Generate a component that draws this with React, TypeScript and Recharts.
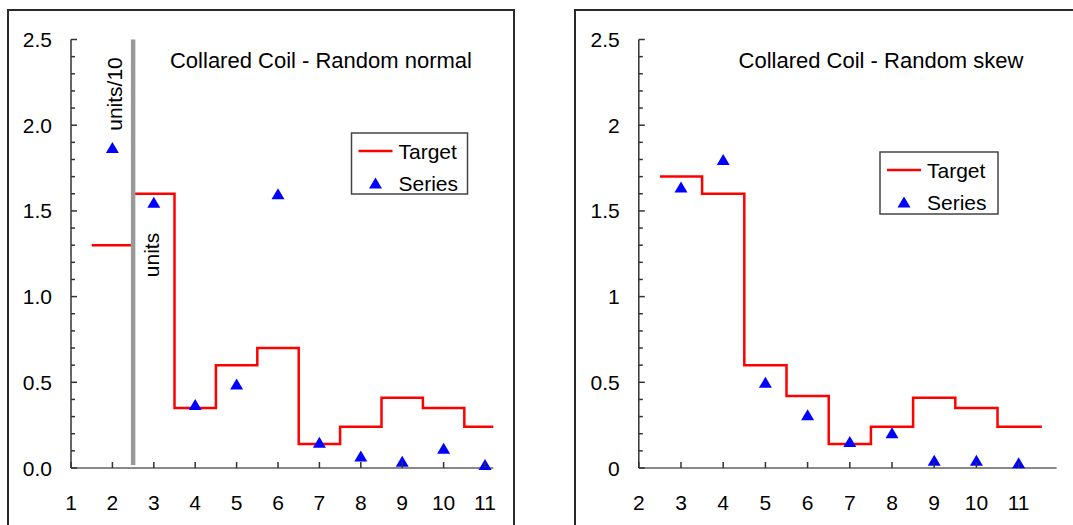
import { ComposedChart, Line, ReferenceLine, Scatter, XAxis, YAxis } from 'recharts';

// values
const LEFT_CATEGORIES = [2, 3, 4, 5, 6, 7, 8, 9, 10, 11];
const LEFT_TARGET = [1.3, 1.6, 0.35, 0.6, 0.7, 0.14, 0.24, 0.41, 0.35, 0.24];
const LEFT_SERIES = [1.87, 1.55, 0.37, 0.49, 1.6, 0.15, 0.07, 0.04, 0.115, 0.02];
const LEFT_X_TICKS = [1, 2, 3, 4, 5, 6, 7, 8, 9, 10, 11];

const RIGHT_CATEGORIES = [3, 4, 5, 6, 7, 8, 9, 10, 11];
const RIGHT_TARGET = [1.7, 1.6, 0.6, 0.42, 0.14, 0.24, 0.41, 0.35, 0.24];
const RIGHT_SERIES = [1.64, 1.8, 0.5, 0.31, 0.155, 0.205, 0.045, 0.045, 0.03];
const RIGHT_X_TICKS = [2, 3, 4, 5, 6, 7, 8, 9, 10, 11];

// minor ticks every 0.1, labels every 0.5
const Y_TICKS = Array.from({ length: 26 }, (_, i) => i / 10);

const FONT = '"Liberation Sans", Arial, sans-serif';
const RED = '#FF0000';
const BLUE = '#0000FF';

// step outline: each category owns [c - 0.5, c + 0.5]
function steps(cats: number[], vals: number[], end: number) {
  const pts = cats.map((c, i) => ({ x: c - 0.5, y: vals[i] }));
  pts.push({ x: end, y: vals[vals.length - 1] });
  return pts;
}

function points(cats: number[], vals: number[]) {
  return cats.map((c, i) => ({ x: c, y: vals[i] }));
}

const Triangle = (props: any) => {
  const { cx, cy } = props;
  return (
    <polygon
      points={`${cx},${cy - 5.5} ${cx - 6.5},${cy + 5.5} ${cx + 6.5},${cy + 5.5}`}
      fill={BLUE}
    />
  );
};

const Y_GAP = 19;
const X_GAP = 34;

function YTick({ x, y, payload, fmt }: any) {
  const v = payload.value;
  const major = Math.round(v * 10) % 5 === 0;
  return (
    <g>
      <line x1={x + Y_GAP} x2={x + Y_GAP + (major ? 6 : 4)} y1={y} y2={y} stroke="#333" strokeWidth={1.5} />
      {major && (
        <text x={x} y={y} dy="0.36em" textAnchor="end" fontSize={21} fontFamily={FONT} fill="#000">
          {fmt(v)}
        </text>
      )}
    </g>
  );
}

function XTick({ x, y, payload }: any) {
  return (
    <g>
      <line x1={x} x2={x} y1={y - X_GAP} y2={y - X_GAP - 6} stroke="#333" strokeWidth={1.5} />
      <text x={x} y={y} dy="0.36em" textAnchor="middle" fontSize={21} fontFamily={FONT} fill="#000">
        {payload.value}
      </text>
    </g>
  );
}

function Panel({
  width,
  margin,
  domain,
  xTicks,
  fmt,
  children,
}: {
  width: number;
  margin: { top: number; right: number; bottom: number; left: number };
  domain: [number, number];
  xTicks: number[];
  fmt: (v: number) => string;
  children: React.ReactNode;
}) {
  return (
    <ComposedChart width={width} height={525} margin={margin}>
      <XAxis
        type="number"
        dataKey="x"
        domain={domain}
        ticks={xTicks}
        interval={0}
        height={40}
        tickSize={0}
        tickMargin={X_GAP}
        axisLine={{ stroke: '#888', strokeWidth: 2 }}
        tick={(p: any) => <XTick {...p} />}
      />
      <YAxis
        type="number"
        dataKey="y"
        domain={[0, 2.5]}
        ticks={Y_TICKS}
        interval={0}
        width={60}
        tickSize={0}
        tickMargin={Y_GAP}
        axisLine={{ stroke: '#333', strokeWidth: 1.5 }}
        tick={(p: any) => <YTick {...p} fmt={fmt} />}
      />
      {children}
    </ComposedChart>
  );
}

function Legend({ x, y, w, h }: { x: number; y: number; w: number; h: number }) {
  return (
    <g fontFamily={FONT} fontSize={21}>
      <rect x={x} y={y} width={w} height={h} fill="#fff" stroke="#444" strokeWidth={1.5} />
      <line x1={x + 7} x2={x + 41} y1={y + 18} y2={y + 18} stroke={RED} strokeWidth={2.5} />
      <text x={x + 47} y={y + 18} dy="0.36em">Target</text>
      <Triangle cx={x + 24} cy={y + 50} />
      <text x={x + 47} y={y + 50} dy="0.36em">Series</text>
    </g>
  );
}

export default function App() {
  const leftLow = steps(LEFT_CATEGORIES.slice(0, 1), LEFT_TARGET.slice(0, 1), 2.5);
  const leftHigh = steps(LEFT_CATEGORIES.slice(1), LEFT_TARGET.slice(1), 11.2);
  const leftPts = points(LEFT_CATEGORIES, LEFT_SERIES);
  const rightSteps = steps(RIGHT_CATEGORIES, RIGHT_TARGET, 11.55);
  const rightPts = points(RIGHT_CATEGORIES, RIGHT_SERIES);

  return (
    <div
      style={{
        position: 'absolute',
        left: 0,
        top: 0,
        width: 1073,
        height: 525,
        overflow: 'hidden',
        background: '#fff',
        fontFamily: FONT,
      }}
    >
      <div style={{ position: 'absolute', left: 7, top: 9, width: 508, height: 600, border: '2px solid #2a2a2a', boxSizing: 'border-box' }} />
      <div style={{ position: 'absolute', left: 574, top: 9, width: 600, height: 600, border: '2px solid #2a2a2a', boxSizing: 'border-box' }} />

      <div style={{ position: 'absolute', left: 0, top: 0 }}>
        <Panel
          width={540}
          margin={{ top: 39.5, right: 46.7, bottom: 17, left: 11 }}
          domain={[1, 11.2]}
          xTicks={LEFT_X_TICKS}
          fmt={(v) => v.toFixed(1)}
        >
          <Line data={leftLow} dataKey="y" type="stepAfter" stroke={RED} strokeWidth={2.5} dot={false} isAnimationActive={false} />
          <Line data={leftHigh} dataKey="y" type="stepAfter" stroke={RED} strokeWidth={2.5} dot={false} isAnimationActive={false} />
          <ReferenceLine
            segment={[
              { x: 2.5, y: 0.018 },
              { x: 2.5, y: 2.5 },
            ]}
            stroke="#999"
            strokeWidth={4.5}
          />
          <Scatter data={leftPts} dataKey="y" shape={Triangle} isAnimationActive={false} />
        </Panel>
      </div>

      <div style={{ position: 'absolute', left: 540, top: 0 }}>
        <Panel
          width={533}
          margin={{ top: 39.5, right: 16.4, bottom: 17, left: 38.8 }}
          domain={[2, 11.9]}
          xTicks={RIGHT_X_TICKS}
          fmt={(v) => String(v)}
        >
          <Line data={rightSteps} dataKey="y" type="stepAfter" stroke={RED} strokeWidth={2.5} dot={false} isAnimationActive={false} />
          <Scatter data={rightPts} dataKey="y" shape={Triangle} isAnimationActive={false} />
        </Panel>
      </div>

      <svg width={1073} height={525} style={{ position: 'absolute', left: 0, top: 0, pointerEvents: 'none' }}>
        <g fontFamily={FONT} fill="#000">
          <text x={321} y={68} fontSize={22} textAnchor="middle">Collared Coil - Random normal</text>
          <text x={881} y={68} fontSize={22} textAnchor="middle">Collared Coil - Random skew</text>
          <text transform="translate(122,94) rotate(-90)" fontSize={21} textAnchor="middle">units/10</text>
          <text transform="translate(159,255) rotate(-90)" fontSize={21} textAnchor="middle">units</text>
        </g>
        <Legend x={351.5} y={133} w={116} h={61} />
        <Legend x={880} y={152} w={118} h={62} />
      </svg>
    </div>
  );
}
